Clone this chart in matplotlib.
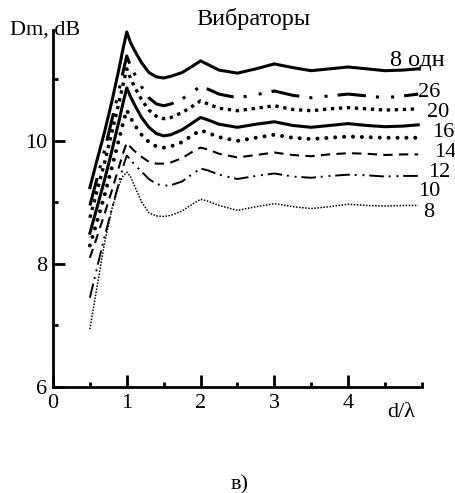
import matplotlib
matplotlib.use("Agg")
import matplotlib.pyplot as plt
from matplotlib.ticker import MultipleLocator

plt.rcParams["font.family"] = ["Liberation Serif", "DejaVu Serif"]

# d/lambda grid shared by all curves
d_lam = [0.5, 0.6, 0.7, 0.8, 0.9, 0.95, 1.0, 1.05, 1.1, 1.2, 1.3, 1.4, 1.5, 1.6, 1.75,
         1.9, 2.0, 2.1, 2.25, 2.5, 2.75, 3.0, 3.25, 3.5, 3.75, 4.0, 4.25, 4.5, 4.75, 4.95]

# directivity Dm, dB, for each array size
dm_8_single = [9.24, 9.70, 10.15, 10.65, 11.20, 11.50, 11.77, 11.60, 11.48, 11.27, 11.11, 11.04,
               11.02, 11.05, 11.11, 11.22, 11.30, 11.24, 11.15, 11.10, 11.17, 11.25, 11.19,
               11.14, 11.17, 11.20, 11.17, 11.14, 11.15, 11.17]
dm_26 = [8.95, 9.40, 9.85, 10.35, 10.85, 11.12, 11.38, 11.22, 11.10, 10.88, 10.70, 10.60,
         10.57, 10.60, 10.68, 10.80, 10.89, 10.84, 10.76, 10.70, 10.75, 10.81, 10.74,
         10.70, 10.73, 10.76, 10.73, 10.70, 10.73, 10.76]
dm_20 = [8.75, 9.20, 9.65, 10.15, 10.65, 10.92, 11.17, 11.02, 10.89, 10.67, 10.50, 10.40,
         10.36, 10.38, 10.46, 10.57, 10.65, 10.60, 10.53, 10.49, 10.53, 10.57, 10.51,
         10.49, 10.52, 10.54, 10.52, 10.50, 10.51, 10.52]
dm_16 = [8.50, 8.93, 9.37, 9.85, 10.35, 10.62, 10.86, 10.72, 10.60, 10.38, 10.22, 10.12,
         10.08, 10.10, 10.18, 10.30, 10.38, 10.34, 10.27, 10.22, 10.27, 10.31, 10.25,
         10.22, 10.25, 10.28, 10.25, 10.23, 10.24, 10.26]
dm_14 = [8.30, 8.70, 9.12, 9.58, 10.05, 10.29, 10.50, 10.38, 10.27, 10.10, 9.98, 9.91,
         9.89, 9.91, 9.98, 10.10, 10.17, 10.13, 10.06, 10.00, 10.05, 10.10, 10.05,
         10.03, 10.05, 10.07, 10.06, 10.05, 10.05, 10.05]
dm_12 = [8.10, 8.45, 8.82, 9.20, 9.60, 9.80, 9.97, 9.90, 9.84, 9.74, 9.66, 9.63,
         9.63, 9.65, 9.72, 9.83, 9.89, 9.86, 9.79, 9.73, 9.77, 9.81, 9.77,
         9.75, 9.78, 9.80, 9.79, 9.77, 9.78, 9.78]
dm_10 = [7.45, 7.95, 8.45, 8.90, 9.35, 9.58, 9.76, 9.70, 9.62, 9.50, 9.38, 9.30,
         9.27, 9.28, 9.34, 9.47, 9.55, 9.52, 9.45, 9.38, 9.43, 9.47, 9.42,
         9.40, 9.43, 9.45, 9.44, 9.42, 9.43, 9.43]
dm_8 = [6.94, 7.65, 8.35, 8.90, 9.30, 9.43, 9.49, 9.42, 9.28, 9.01, 8.83, 8.78,
        8.77, 8.79, 8.86, 8.98, 9.05, 9.02, 8.95, 8.87, 8.93, 8.98, 8.93,
        8.90, 8.93, 8.97, 8.95, 8.94, 8.95, 8.95]

curve_labels = ["8 одн", "26", "20", "16", "14", "12", "10", "8"]
label_x = [4.57, 4.95, 5.07, 5.14, 5.16, 5.09, 4.95, 5.01]
label_y = [11.21, 10.72, 10.39, 10.07, 9.74, 9.42, 9.10, 8.77]
label_size = [17.5, 16, 16, 16, 16, 16, 16, 16]

fig = plt.figure(figsize=(4.56, 4.93), dpi=100)
ax = fig.add_axes([0.1162, 0.215, 0.809, 0.724])

ax.plot(d_lam, dm_8_single, color="black", lw=2.2, ls="-", clip_on=False)
ax.plot(d_lam, dm_26, color="black", lw=2.2, ls=(0, (9.3, 3.3, 1, 4, 1, 3.3)),
        dash_capstyle="butt", clip_on=False)
ax.plot(d_lam, dm_20, color="black", lw=2.4, ls=(0, (1, 1.4)),
        dash_capstyle="butt", clip_on=False)
ax.plot(d_lam, dm_16, color="black", lw=2.2, ls="-", clip_on=False)
ax.plot(d_lam, dm_14, color="black", lw=2.9, ls=(0, (0.01, 2.2)),
        dash_capstyle="round", clip_on=False)
ax.plot(d_lam, dm_12, color="black", lw=1.5, ls=(0, (4.5, 3)),
        dash_capstyle="butt", clip_on=False)
ax.plot(d_lam, dm_10, color="black", lw=1.4, ls=(0, (7.5, 2.5, 1, 3, 1, 2.5)),
        dash_capstyle="butt", clip_on=False)
ax.plot(d_lam, dm_8, color="black", lw=1.1, ls=(0, (1, 1)),
        dash_capstyle="butt", clip_on=False)

for txt, tx, ty, fs in zip(curve_labels, label_x, label_y, label_size):
    ax.text(tx, ty, txt, fontsize=fs, ha="left", va="baseline", clip_on=False)

ax.set_xlim(0, 5.0)
ax.set_ylim(6, 11.8)

for side in ["top", "right"]:
    ax.spines[side].set_visible(False)
for side in ["left", "bottom"]:
    ax.spines[side].set_linewidth(2.0)

ax.xaxis.set_major_locator(MultipleLocator(1))
ax.xaxis.set_minor_locator(MultipleLocator(0.5))
ax.yaxis.set_major_locator(MultipleLocator(2))
ax.yaxis.set_minor_locator(MultipleLocator(1))
ax.set_xticks([0, 1, 2, 3, 4])
ax.tick_params(which="major", direction="in", length=8.5, width=2.0, labelsize=16)
ax.tick_params(which="minor", direction="in", length=3.8, width=2.0)
ax.tick_params(axis="x", which="major", pad=5)
ax.tick_params(axis="y", which="major", pad=4)

ax.text(4.72, -0.045, "d/λ", transform=ax.get_xaxis_transform(),
        fontsize=16, ha="center", va="top")
ax.text(-0.02, 1.0, "Dm, dB", transform=ax.transAxes, fontsize=16,
        ha="center", va="center")
ax.text(0.542, 1.03, "Вибраторы", transform=ax.transAxes, fontsize=17.5,
        ha="center", va="center")
fig.text(0.526, 0.008, "в)", fontsize=16, ha="center", va="baseline")

fig.savefig("out.png", dpi=100)
